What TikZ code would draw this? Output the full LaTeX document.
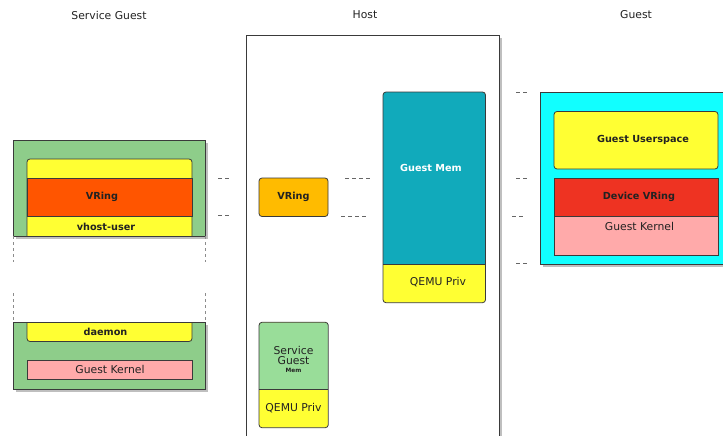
\documentclass[tikz,border=0pt]{standalone}
\usepackage{fontspec}
\setmainfont{DejaVu Sans}
\usetikzlibrary{shadows}
\definecolor{bordercol}{HTML}{3A3A3A}
\definecolor{sgreen}{HTML}{8ECD8A}
\definecolor{lgreen}{HTML}{99DD99}
\definecolor{yel}{HTML}{FFFF33}
\definecolor{orng}{HTML}{FF5500}
\definecolor{amber}{HTML}{FFBB00}
\definecolor{pinkk}{HTML}{FFAAAA}
\definecolor{teal}{HTML}{11AABB}
\definecolor{cyn}{HTML}{11FFFF}
\definecolor{redd}{HTML}{EE3322}
\definecolor{txt}{HTML}{222222}
\begin{document}
\begin{tikzpicture}[x=1pt,y=-1pt,
  bd/.style={draw=bordercol, line width=0.8pt},
  boxn/.style={bd, anchor=north west, inner sep=0pt, outer sep=0pt},
  shad/.style={drop shadow={shadow xshift=3pt, shadow yshift=-3pt, fill=black!50, opacity=0.5}},
  rnd/.style={rounded corners=3pt},
  bt/.style={font=\fontsize{9.7}{11}\selectfont\bfseries, text=txt, inner sep=0pt},
  rt/.style={font=\fontsize{10.8}{12}\selectfont, text=txt, inner sep=0pt},
  dsh/.style={draw=black!60, line width=0.7pt, dash pattern=on 3.5pt off 3.5pt},
  vd/.style={draw=black!45, line width=0.8pt, dash pattern=on 3pt off 3pt}]
\useasboundingbox (0,0) rectangle (723,436);

% titles
\node[rt] (t1) at (109,15) {Service Guest};
\node[rt] (t2) at (365,15) {Host};
\node[rt] (t3) at (636,15) {Guest};

% Host box
\node[boxn, fill=white, shad, minimum width=253pt, minimum height=420pt] (host) at (246,35) {};

% Service guest upper
\node[boxn, fill=sgreen, shad, minimum width=192pt, minimum height=96pt] (sgup) at (13,140) {};
\path[bd, fill=yel, rnd] (27,236) -- (27,159) -- (192,159) -- (192,236);
\node[boxn, fill=orng, minimum width=165pt, minimum height=38.5pt] (vr1) at (27,178) {};
\draw[bd] (sgup.south west) -- (sgup.south east);
\node[bt] (vrt1) at (102,197) {VRing};
\node[bt] (vhu) at (106,226.5) {vhost-user};

% dashed continuation
\coordinate (d1a) at (13,236); \coordinate (d1b) at (13,262);
\coordinate (d2a) at (205,236); \coordinate (d2b) at (205,262);
\coordinate (d3a) at (13,293); \coordinate (d3b) at (13,322);
\coordinate (d4a) at (205,293); \coordinate (d4b) at (205,322);
\draw[vd] (d1a) -- (d1b); \draw[vd] (d2a) -- (d2b);
\draw[vd] (d3a) -- (d3b); \draw[vd] (d4a) -- (d4b);

% Service guest lower
\node[boxn, fill=sgreen, shad, minimum width=192pt, minimum height=67pt] (sglo) at (13,322) {};
\path[bd, fill=yel, rnd] (27,322) -- (27,341.5) -- (192,341.5) -- (192,322);
\draw[bd] (sglo.north west) -- (sglo.north east);
\node[bt] (dmn) at (105.5,331.5) {daemon};
\node[boxn, fill=pinkk, minimum width=165pt, minimum height=19.5pt] (gk1) at (27,360) {};
\node[rt] (gk1t) at (110,369.5) {Guest Kernel};

% left dashes
\coordinate (l1a) at (218,178); \coordinate (l1b) at (231,178);
\coordinate (l2a) at (218,215.5); \coordinate (l2b) at (231,215.5);
\draw[dsh] (l1a) -- (l1b); \draw[dsh] (l2a) -- (l2b);

% Host VRing
\node[boxn, fill=amber, rnd, minimum width=69pt, minimum height=38.5pt] (hvr) at (259,178) {};
\node[bt] (hvrt) at (293.5,197) {VRing};

% host dashes
\coordinate (h1a) at (345,178); \coordinate (h1b) at (372,178);
\coordinate (h2a) at (341,216.5); \coordinate (h2b) at (368,216.5);
\draw[dsh] (h1a) -- (h1b); \draw[dsh] (h2a) -- (h2b);

% Guest Mem
\begin{scope}
  \clip[rnd] (383,92) rectangle (485.5,302.7);
  \fill[yel] (383,92) rectangle (485.5,302.7);
  \fill[teal] (383,92) rectangle (485.5,264.5);
\end{scope}
\node[boxn, rnd, minimum width=102.5pt, minimum height=210.7pt] (gmem) at (383,92) {};
\draw[bd] (383,264.5) -- (485.5,264.5);
\node[bt, text=white] (gmt) at (431,168) {Guest Mem};
\node[rt] (qp1) at (438,282.5) {QEMU Priv};

% Service Guest Mem
\begin{scope}
  \clip[rnd] (259,322.3) rectangle (328.3,427.7);
  \fill[yel] (259,322.3) rectangle (328.3,427.7);
  \fill[lgreen] (259,322.3) rectangle (328.3,389.3);
\end{scope}
\node[boxn, rnd, minimum width=69.3pt, minimum height=105.4pt] (sgm) at (259,322.3) {};
\draw[bd] (259,389.3) -- (328.3,389.3);
\node[rt, align=center, font=\fontsize{10.8}{9.5}\selectfont] (sgmt) at (293.5,355.5) {Service\\Guest};
\node[bt, font=\fontsize{5.8}{6}\selectfont\bfseries] (mem) at (293.5,370.5) {Mem};
\node[rt] (qp2) at (293.5,408.5) {QEMU Priv};

% right dashes
\coordinate (r1a) at (516,92); \coordinate (r1b) at (529,92);
\coordinate (r2a) at (516,178); \coordinate (r2b) at (529,178);
\coordinate (r3a) at (512,216.5); \coordinate (r3b) at (525,216.5);
\coordinate (r4a) at (516,263.5); \coordinate (r4b) at (529,263.5);
\draw[dsh] (r1a) -- (r1b); \draw[dsh] (r2a) -- (r2b);
\draw[dsh] (r3a) -- (r3b); \draw[dsh] (r4a) -- (r4b);

% Guest
\node[boxn, fill=cyn, shad, minimum width=200pt, minimum height=172pt] (guest) at (540,92) {};
\node[boxn, fill=yel, rnd, minimum width=164pt, minimum height=57.5pt] (gus) at (554,111.5) {};
\node[bt] (gust) at (643,140) {Guest Userspace};
\node[boxn, fill=redd, minimum width=164pt, minimum height=38.4pt] (dvr) at (554,178.3) {};
\node[bt] (dvrt) at (639,197) {Device VRing};
\node[boxn, fill=pinkk, minimum width=164pt, minimum height=38.3pt] (gk2) at (554,216.7) {};
\node[rt] (gk2t) at (639.5,226) {Guest Kernel};
\end{tikzpicture}
\end{document}
